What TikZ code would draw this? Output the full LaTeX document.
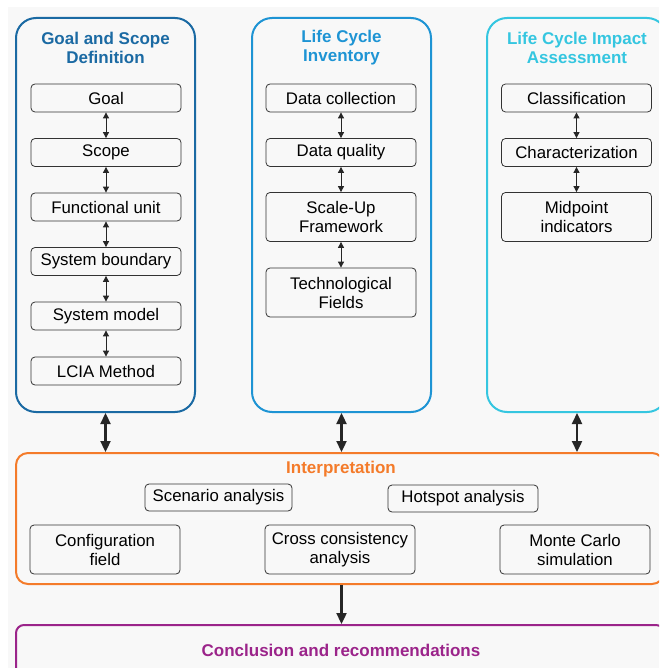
\documentclass[tikz,border=0pt]{standalone}
\usepackage{fontspec}
\setmainfont{Liberation Sans}
\usetikzlibrary{arrows.meta,positioning}

\definecolor{bggray}{HTML}{F8F8F8}
\definecolor{gsdblue}{HTML}{1B6AA3}
\definecolor{lciblue}{HTML}{1E94D4}
\definecolor{lciacyan}{HTML}{35C6E0}
\definecolor{interporange}{HTML}{F47B2A}
\definecolor{conclpurple}{HTML}{9B248A}

\begin{document}
\begin{tikzpicture}[x=1pt,y=-1pt,
    bigbox/.style = {shape=rectangle, rounded corners=20pt, line width=2pt},
    heading/.style = {align=center, font=\fontsize{17}{19}\selectfont\bfseries},
    item/.style = {shape=rectangle, rounded corners=4pt, draw=black!80,
      line width=0.8pt, align=center, minimum width=150pt, minimum height=28pt,
      inner sep=1pt, font=\fontsize{16.8}{19}\selectfont},
    tall/.style = {minimum height=49pt},
    small/.style = {{Triangle[length=6pt,width=6pt]}-{Triangle[length=6pt,width=6pt]},
      line width=0.9pt, black!85},
    big/.style = {{Triangle[length=11pt,width=10pt]}-{Triangle[length=11pt,width=10pt]},
      line width=2.3pt, black!85},
    bigdown/.style = {-{Triangle[length=11pt,width=10pt]}, line width=2.3pt, black!85}]

  % page
  \useasboundingbox (0,0) rectangle (659,668);
  \clip (0,0) rectangle (659,668);
  \fill[bggray] (8,7) rectangle (659,668);

  % three columns
  \node[bigbox, draw=gsdblue, minimum width=179pt, minimum height=394pt] (gsd) at (105.5,215) {};
  \node[bigbox, draw=lciblue, minimum width=179pt, minimum height=394pt] (lci) at (341.5,215) {};
  \node[bigbox, draw=lciacyan, minimum width=180pt, minimum height=394pt] (lcia) at (577,215) {};

  \node[heading, text=gsdblue] (gsdtitle) at (105.5,48) {Goal and Scope\\Definition};
  \node[heading, text=lciblue] (lcititle) at (341.5,48) {Life Cycle\\Inventory};
  \node[heading, text=lciacyan] (lciatitle) at (577,48) {Life Cycle Impact\\Assessment};

  % goal and scope
  \node[item] (goal) at (106,98) {Goal};
  \node[item] (scope) at (106,152.5) {Scope};
  \node[item] (unit) at (106,207) {Functional unit};
  \node[item] (boundary) at (106,261.5) {System boundary};
  \node[item] (model) at (106,316) {System model};
  \node[item] (method) at (106,371) {LCIA Method};
  \draw[small] (goal) -- (scope);
  \draw[small] (scope) -- (unit);
  \draw[small] (unit) -- (boundary);
  \draw[small] (boundary) -- (model);
  \draw[small] (model) -- (method);

  % inventory
  \node[item] (collection) at (341,98) {Data collection};
  \node[item] (quality) at (341,152.5) {Data quality};
  \node[item, tall] (scaleup) at (341,217) {Scale-Up\\Framework};
  \node[item, tall] (fields) at (341,292.5) {Technological\\Fields};
  \draw[small] (collection) -- (quality);
  \draw[small] (quality) -- (scaleup);
  \draw[small] (scaleup) -- (fields);

  % impact assessment
  \node[item] (classif) at (576.5,98) {Classification};
  \node[item] (charact) at (576.5,152.5) {Characterization};
  \node[item, tall] (midpoint) at (576.5,217) {Midpoint\\indicators};
  \draw[small] (classif) -- (charact);
  \draw[small] (charact) -- (midpoint);

  % interpretation
  \node[bigbox, rounded corners=12pt, draw=interporange, minimum width=648pt,
    minimum height=131pt] (interp) at (340,518.5) {};
  \node[heading, text=interporange] (interptitle) at (341,469) {Interpretation};
  \node[item, minimum width=147pt, minimum height=27pt] (scenario) at (218.5,497.5) {Scenario analysis};
  \node[item, minimum height=27pt] (hotspot) at (463,498.5) {Hotspot analysis};
  \node[item, tall] (config) at (105,549.5) {Configuration\\field};
  \node[item, tall] (cross) at (340,549.5) {Cross consistency\\analysis};
  \node[item, tall] (montecarlo) at (575,549.5) {Monte Carlo\\simulation};

  % conclusion
  \node[bigbox, rounded corners=8pt, draw=conclpurple, minimum width=648pt,
    minimum height=100pt] (concl) at (340,675) {};
  \node[heading, text=conclpurple] (concltitle) at (341,650) {Conclusion and recommendations};

  % links between stages
  \draw[big] (gsd.south) -- (gsd.south |- interp.north);
  \draw[big] (lci.south) -- (lci.south |- interp.north);
  \draw[big] (lcia.south) -- (lcia.south |- interp.north);
  \draw[bigdown] (lci.south |- interp.south) -- (lci.south |- concl.north);
\end{tikzpicture}
\end{document}
